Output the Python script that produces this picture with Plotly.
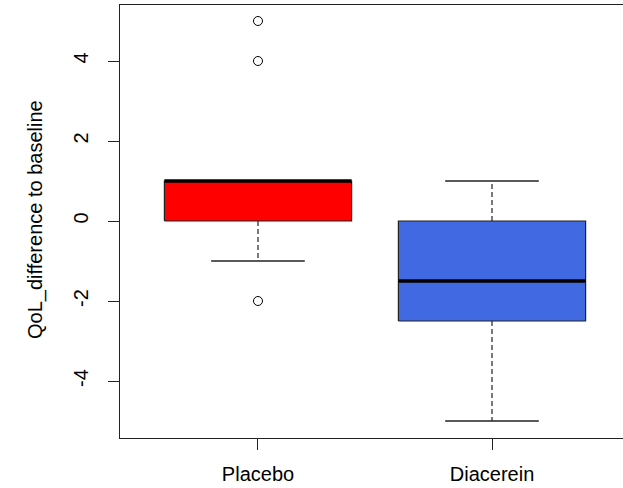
import plotly.graph_objects as go

groups = ["Placebo", "Diacerein"]
lower_whisker = [-1, -5]
q1 = [0, -2.5]
median = [1, -1.5]
q3 = [1, 0]
upper_whisker = [1, 1]
outliers = [[5, 4, -2], []]
colors = ["#FF0000", "#4169E1"]
yticks = [-4, -2, 0, 2, 4]

BOX_W = 0.4   # half width of box
CAP_W = 0.2   # half width of whisker cap

fig = go.Figure()
for i, g in enumerate(groups):
    x = i + 1
    # whiskers (dashed)
    fig.add_trace(go.Scatter(x=[x, x, None, x, x],
                             y=[q3[i], upper_whisker[i], None, q1[i], lower_whisker[i]],
                             mode="lines", line=dict(color="#222222", width=1.2, dash="5px,3px"),
                             hoverinfo="skip", showlegend=False))
    # caps
    fig.add_trace(go.Scatter(x=[x - CAP_W, x + CAP_W, None, x - CAP_W, x + CAP_W],
                             y=[upper_whisker[i], upper_whisker[i], None, lower_whisker[i], lower_whisker[i]],
                             mode="lines", line=dict(color="#222222", width=1.3),
                             hoverinfo="skip", showlegend=False))
    # box
    fig.add_trace(go.Scatter(x=[x - BOX_W, x + BOX_W, x + BOX_W, x - BOX_W, x - BOX_W],
                             y=[q1[i], q1[i], q3[i], q3[i], q1[i]],
                             mode="lines", fill="toself", fillcolor=colors[i],
                             line=dict(color="#222222", width=1.2),
                             name=g, showlegend=False))
    # median
    fig.add_trace(go.Scatter(x=[x - BOX_W, x + BOX_W], y=[median[i], median[i]],
                             mode="lines", line=dict(color="black", width=3.5),
                             hoverinfo="skip", showlegend=False))
    # outliers
    if outliers[i]:
        fig.add_trace(go.Scatter(x=[x] * len(outliers[i]), y=outliers[i], mode="markers",
                                 marker=dict(symbol="circle-open", size=9, color="black",
                                             line=dict(width=1)),
                                 showlegend=False))

L, R, T, B = 120, 0, 5, 50
W, H = 623, 488
fig.update_layout(
    width=W, height=H,
    margin=dict(l=L, r=R, t=T, b=B),
    plot_bgcolor="white", paper_bgcolor="white",
    font=dict(family="Liberation Sans, Arial, sans-serif", size=20, color="black"),
    xaxis=dict(range=[0.4103, 2.5598], tickvals=[1, 2], ticktext=groups,
               showgrid=False, zeroline=False, showline=True, mirror=True,
               linecolor="#222222", linewidth=1.2, ticks="outside", ticklen=11,
               tickcolor="#222222", tickfont=dict(size=20), ticklabelstandoff=7),
    yaxis=dict(range=[-5.425, 5.4], tickvals=yticks, ticktext=[str(v) for v in yticks],
               tickangle=-90, showgrid=False, zeroline=False, showline=True,
               linecolor="#222222", linewidth=1.2, ticks="outside", ticklen=11,
               tickcolor="#222222", tickfont=dict(size=20), ticklabelstandoff=12),
    annotations=[dict(text="QoL_difference to baseline", textangle=-90,
                      xref="paper", yref="paper",
                      x=(35 - L) / (W - L - R), y=(H - B - 220) / (H - T - B),
                      xanchor="center", yanchor="middle", showarrow=False,
                      font=dict(size=20))],
)

fig.write_html("out.html", config={"displayModeBar": False},
               post_script="document.body.style.margin='0';document.body.style.overflow='hidden';")
